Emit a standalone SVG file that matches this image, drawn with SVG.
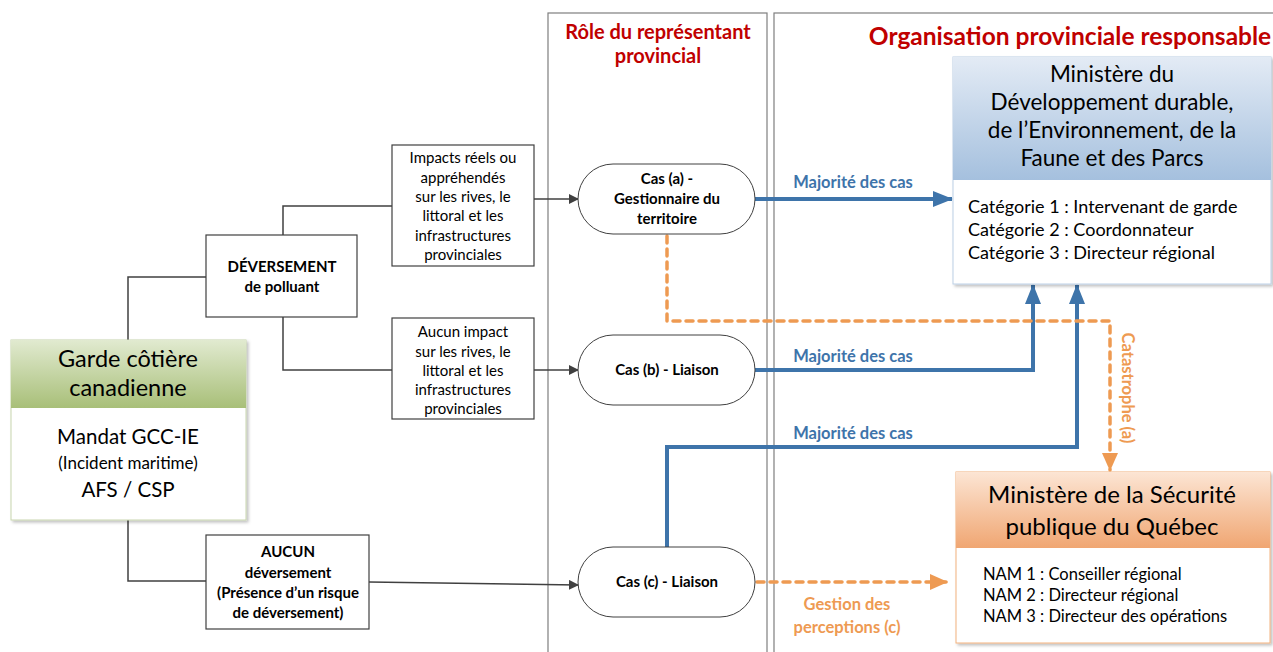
<svg xmlns="http://www.w3.org/2000/svg" width="1273" height="652" viewBox="0 0 1273 652">
<defs>
<linearGradient id="gGreen" x1="0" y1="0" x2="0" y2="1"><stop offset="0" stop-color="#e1ead0"/><stop offset="1" stop-color="#a8bf78"/></linearGradient>
<linearGradient id="gBlue" x1="0" y1="0" x2="0" y2="1"><stop offset="0" stop-color="#e3ebf5"/><stop offset="1" stop-color="#a5c0de"/></linearGradient>
<linearGradient id="gOrange" x1="0" y1="0" x2="0" y2="1"><stop offset="0" stop-color="#fce5d4"/><stop offset="1" stop-color="#f0a672"/></linearGradient>
<filter id="sh" x="-5%" y="-5%" width="115%" height="115%"><feDropShadow dx="2" dy="2" stdDeviation="1.5" flood-color="#000" flood-opacity="0.25"/></filter>
<marker id="aGray" markerWidth="10" markerHeight="10" refX="9" refY="5" orient="auto" markerUnits="userSpaceOnUse"><path d="M0,0 L10,5 L0,10 Z" fill="#404040"/></marker>
<marker id="aBlue" markerWidth="20" markerHeight="16" refX="19" refY="8" orient="auto" markerUnits="userSpaceOnUse"><path d="M0,0 L20,8 L0,16 Z" fill="#3e74aa"/></marker>
<marker id="aOrange" markerWidth="18" markerHeight="16" refX="17" refY="8" orient="auto" markerUnits="userSpaceOnUse"><path d="M0,0 L18,8 L0,16 Z" fill="#ee9a52"/></marker>
</defs>
<style>
text{font-family:Lato,"Open Sans","Liberation Sans",sans-serif;fill:#000}
.box{fill:#fff;stroke:#404040;stroke-width:1.2}
.pill{fill:#fff;stroke:#404040;stroke-width:1}
.panel{fill:none;stroke:#7f7f7f;stroke-width:1.2}
.tree{fill:none;stroke:#404040;stroke-width:1.5}
.gray{fill:none;stroke:#404040;stroke-width:1.5;marker-end:url(#aGray)}
.blue{fill:none;stroke:#3e74aa;stroke-width:4;marker-end:url(#aBlue)}
.orange{fill:none;stroke:#ee9a52;stroke-width:3.5;stroke-dasharray:7,6;stroke-linecap:round;marker-end:url(#aOrange)}
.sm{font-size:15px;text-anchor:middle}
.smb{font-size:15px;font-weight:bold;text-anchor:middle}
.title{fill:#c00000;font-weight:bold;text-anchor:middle}
.bl{fill:#3e74aa;font-weight:bold;font-size:16.5px;text-anchor:middle}
.or{fill:#ee9a52;font-weight:bold;font-size:16.5px;text-anchor:middle}
</style>
<rect width="1273" height="652" fill="#fff"/>

<g id="panels">
<rect class="panel" x="548" y="13" width="219" height="645"/>
<rect class="panel" x="774" y="13" width="505" height="645"/>
<text class="title" x="658" y="39" font-size="20">Rôle du représentant</text>
<text class="title" x="658" y="63" font-size="20">provincial</text>
<text class="title" x="1070" y="45" font-size="24.5">Organisation provinciale responsable</text>
</g>

<g id="connectors">
<polyline class="tree" points="128,340 128,277 206,277"/>
<polyline class="tree" points="128,520 128,581 206,581"/>
<polyline class="tree" points="283,235 283,206 392,206"/>
<polyline class="tree" points="283,317 283,370 392,370"/>
<line class="gray" x1="534" y1="199" x2="578" y2="199"/>
<line class="gray" x1="534" y1="370" x2="578" y2="370"/>
<line class="gray" x1="369" y1="582" x2="578" y2="585"/>
<line class="blue" x1="755" y1="199" x2="952" y2="199"/>
<polyline class="blue" points="755,370 1033,370 1033,285"/>
<polyline class="blue" points="667,547 667,447 1077,447 1077,285"/>
<polyline class="orange" points="667,236 667,321 1110,321 1110,470"/>
<line class="orange" x1="757" y1="582" x2="947" y2="582"/>
<text class="bl" x="853" y="188">Majorité des cas</text>
<text class="bl" x="853" y="362">Majorité des cas</text>
<text class="bl" x="853" y="439">Majorité des cas</text>
<text class="or" transform="translate(1122,388) rotate(90)">Catastrophe (a)</text>
<text class="or" x="847" y="610">Gestion des</text>
<text class="or" x="847" y="633">perceptions (c)</text>
</g>

<g id="garde">
<rect x="11" y="340" width="235" height="180" fill="#fff" stroke="#c8d5ae" stroke-width="1" filter="url(#sh)"/>
<rect x="11" y="340" width="235" height="68" fill="url(#gGreen)"/>
<text x="128" y="367" font-size="23.5" text-anchor="middle">Garde côtière</text>
<text x="128" y="396" font-size="23.5" text-anchor="middle">canadienne</text>
<text x="128" y="444" font-size="20.5" text-anchor="middle">Mandat GCC-IE</text>
<text x="128" y="469" font-size="17" text-anchor="middle">(Incident maritime)</text>
<text x="128" y="497" font-size="20.5" text-anchor="middle">AFS / CSP</text>
</g>

<g id="deversement">
<rect class="box" x="206" y="235" width="151" height="82"/>
<text class="smb" x="282" y="272">DÉVERSEMENT</text>
<text class="smb" x="282" y="292">de polluant</text>
</g>

<g id="impacts">
<rect class="box" x="392" y="145" width="142" height="121"/>
<text class="sm" x="463" y="163">Impacts réels ou</text>
<text class="sm" x="463" y="183">appréhendés</text>
<text class="sm" x="463" y="202">sur les rives, le</text>
<text class="sm" x="463" y="221">littoral et les</text>
<text class="sm" x="463" y="241">infrastructures</text>
<text class="sm" x="463" y="260">provinciales</text>
</g>

<g id="aucunimpact">
<rect class="box" x="392" y="318" width="142" height="101"/>
<text class="sm" x="463" y="337">Aucun impact</text>
<text class="sm" x="463" y="357">sur les rives, le</text>
<text class="sm" x="463" y="376">littoral et les</text>
<text class="sm" x="463" y="395">infrastructures</text>
<text class="sm" x="463" y="414">provinciales</text>
</g>

<g id="aucun">
<rect class="box" x="206" y="535" width="163" height="94"/>
<text class="smb" x="288" y="557">AUCUN</text>
<text class="smb" x="288" y="578">déversement</text>
<text class="smb" x="288" y="598">(Présence d’un risque</text>
<text class="smb" x="288" y="618">de déversement)</text>
</g>

<g id="casa">
<rect class="pill" x="578" y="164" width="177" height="70" rx="35" ry="35"/>
<text class="smb" x="667" y="184">Cas (a) -</text>
<text class="smb" x="667" y="204">Gestionnaire du</text>
<text class="smb" x="667" y="224">territoire</text>
</g>

<g id="casb">
<rect class="pill" x="578" y="335" width="177" height="70" rx="35" ry="35"/>
<text class="smb" x="667" y="375">Cas (b) - Liaison</text>
</g>

<g id="casc">
<rect class="pill" x="578" y="547" width="177" height="70" rx="35" ry="35"/>
<text class="smb" x="667" y="587">Cas (c) - Liaison</text>
</g>

<g id="mddefp">
<rect x="953" y="57" width="318" height="227" fill="#fff" stroke="#bcd0e6" stroke-width="1" filter="url(#sh)"/>
<rect x="953" y="57" width="318" height="123" fill="url(#gBlue)"/>
<text x="1112" y="82" font-size="22.5" text-anchor="middle">Ministère du</text>
<text x="1112" y="110" font-size="22.5" text-anchor="middle">Développement durable,</text>
<text x="1112" y="138" font-size="22.5" text-anchor="middle">de l’Environnement, de la</text>
<text x="1112" y="166" font-size="22.5" text-anchor="middle">Faune et des Parcs</text>
<text x="968" y="213" font-size="18">Catégorie 1 : Intervenant de garde</text>
<text x="968" y="236" font-size="18">Catégorie 2 : Coordonnateur</text>
<text x="968" y="259" font-size="18">Catégorie 3 : Directeur régional</text>
</g>

<g id="msp">
<rect x="956" y="472" width="314" height="171" fill="#fff" stroke="#f2b27e" stroke-width="1" filter="url(#sh)"/>
<rect x="956" y="472" width="314" height="76" fill="url(#gOrange)"/>
<text x="1112" y="503" font-size="24" text-anchor="middle">Ministère de la Sécurité</text>
<text x="1112" y="535" font-size="24" text-anchor="middle">publique du Québec</text>
<text x="983" y="580" font-size="16.5">NAM 1 : Conseiller régional</text>
<text x="983" y="601" font-size="16.5">NAM 2 : Directeur régional</text>
<text x="983" y="622" font-size="16.5">NAM 3 : Directeur des opérations</text>
</g>
</svg>
